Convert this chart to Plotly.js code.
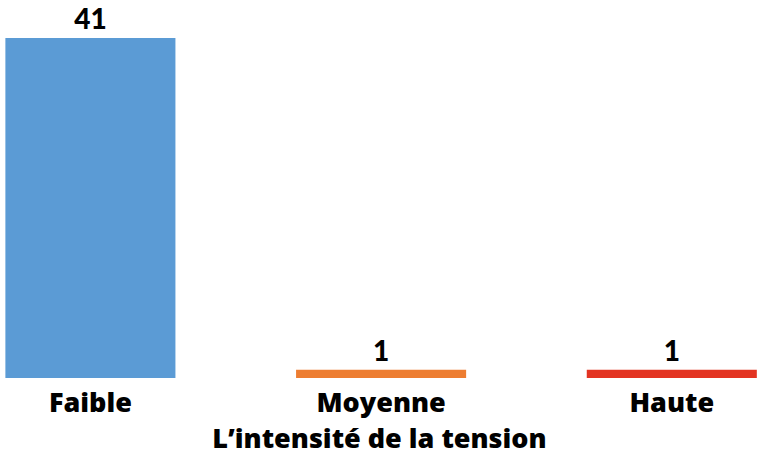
<!DOCTYPE html>
<html>
<head>
<meta charset="utf-8">
<script src="https://cdn.plot.ly/plotly-3.0.1.min.js"></script>
<style>html,body{margin:0;padding:0;background:#fff;}#chart{width:759px;height:456px;}</style>
</head>
<body>
<div id="chart"></div>
<script>
const categories = ["Faible", "Moyenne", "Haute"];
const values = [41, 1, 1];
const barColors = ["#5B9BD5", "#ED7D31", "#E33422"];
const axisTitle = "L’intensité de la tension";

const font = {family: "'Open Sans', sans-serif", size: 27, color: "#000000", weight: 800};
const valueFont = {family: "Lato, sans-serif", size: 28, color: "#000000", weight: 900};

Plotly.newPlot("chart", [{
  type: "bar",
  x: categories,
  y: values,
  width: 0.585,
  marker: {color: barColors},
  text: values.map(String),
  textposition: "outside",
  cliponaxis: false,
  textfont: valueFont,
  hoverinfo: "none"
}], {
  width: 759, height: 456,
  margin: {l: 0, r: 0, t: 38, b: 78},
  paper_bgcolor: "#ffffff",
  plot_bgcolor: "#ffffff",
  showlegend: false,
  xaxis: {
    type: "category",
    range: [-0.311, 2.3],
    showgrid: false, zeroline: false, showline: false,
    ticks: "", tickfont: font,
    ticklabelstandoff: 6,
    title: {text: axisTitle, font: font, standoff: 6}
  },
  yaxis: {
    range: [0, 41],
    visible: false
  }
}, {staticPlot: true});
</script>
</body>
</html>
